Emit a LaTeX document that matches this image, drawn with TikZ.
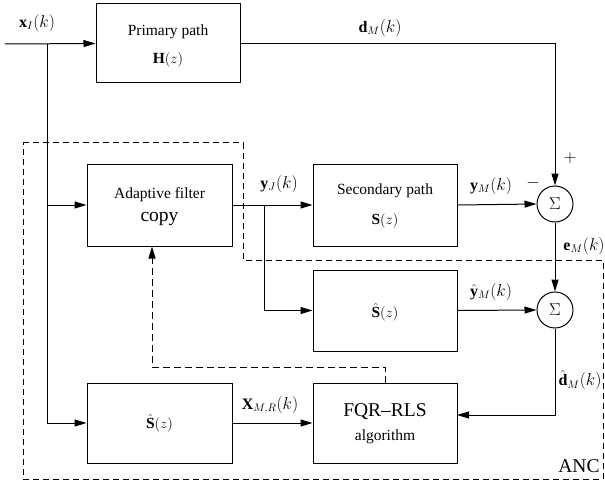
\documentclass[tikz,border=0pt]{standalone}
\usepackage{fontspec}
\setmainfont{Liberation Serif}
\usetikzlibrary{arrows.meta,calc}
\begin{document}
\begin{tikzpicture}[x=1pt,y=-1pt,
  box/.style={draw,line width=1pt,minimum width=144pt,minimum height=80pt,inner sep=0pt},
  sumnode/.style={draw,circle,line width=1pt,minimum size=36pt,inner sep=0pt,font=\fontsize{17.5}{20}\selectfont},
  conn/.style={line width=1pt},
  arr/.style={conn,-{Triangle[length=12pt,width=7pt]}},
  ancline/.style={line width=1pt,dash pattern=on 6pt off 4pt},
  fbline/.style={line width=1pt,dash pattern=on 7pt off 4pt},
  txt/.style={font=\fontsize{15.5}{18}\selectfont,inner sep=0pt},
  lbl/.style={font=\fontsize{16}{18}\selectfont,inner sep=0pt},
  big/.style={font=\fontsize{19.5}{22}\selectfont,inner sep=0pt}]
\useasboundingbox (0,0) rectangle (605,484);

% ANC region
\draw[ancline] (23,143) -- (243,143) -- (243,260) -- (603,260) -- (603,479) -- (23,479) -- cycle;

% boxes
\node[box,minimum height=79pt] (prim) at (168,43.5) {};
\node[txt] (primt1) at (168,32) {Primary path};
\node[txt] (primt2) at (168,60) {$\mathbf{H}(z)$};

\node[box,minimum width=145pt,minimum height=82pt] (adapt) at (159.5,205) {};
\node[txt] (adt1) at (159.5,195) {Adaptive filter};
\node[big] (adt2) at (159.5,219) {copy};

\node[box,minimum height=82pt] (sec) at (385,205) {};
\node[txt] (sect1) at (385,191) {Secondary path};
\node[txt] (sect2) at (385,221) {$\mathbf{S}(z)$};

\node[box,minimum height=81pt] (shat1) at (385,310.5) {};
\node[txt] (shat1t) at (385,312) {$\hat{\mathbf{S}}(z)$};

\node[box,minimum width=145pt] (shat2) at (159.5,423) {};
\node[txt] (shat2t) at (159.5,423) {$\hat{\mathbf{S}}(z)$};

\node[box] (fqr) at (385,423) {};
\node[big] (fqrt1) at (385,412) {FQR\textendash RLS};
\node[txt] (fqrt2) at (385,437) {algorithm};

\node[sumnode] (sum1) at (555,204) {$\Sigma$};
\node[sumnode] (sum2) at (555,310) {$\Sigma$};

% coordinates
\coordinate (in) at (5,44);
\coordinate (j1) at (47,44);
\coordinate (j2) at (264,205);
\coordinate (fqrin) at (457,415);
\coordinate (fb) at (152,367);

% connectors
\draw[arr] (in) -- (prim.west);
\draw[conn] (j1) -- (j1 |- shat2.west);
\draw[arr] (j1 |- adapt.west) -- (adapt.west);
\draw[arr] (j1 |- shat2.west) -- (shat2.west);
\draw[arr] (prim.east) -| (sum1.north);
\draw[arr] (adapt.east) -- (sec.west);
\draw[arr] (j2) |- (shat1.west);
\draw[arr] (sec.east) -- (sum1.west);
\draw[arr] (shat1.east) -- (sum2.west);
\draw[arr] (sum1.south) -- (sum2.north);
\draw[arr] (sum2.south) |- (fqrin);
\draw[arr] (shat2.east) -- (fqr.west);
\draw[fbline,-{Triangle[length=12pt,width=7pt]}] (fqr.north) |- (fb) -- (fb |- adapt.south);

% labels
\node[lbl] (lx) at (37,23) {$\mathbf{x}_I(k)$};
\node[lbl] (ld) at (380,28) {$\mathbf{d}_M(k)$};
\node[lbl] (lyj) at (279,184) {$\mathbf{y}_J(k)$};
\node[lbl] (lym) at (491,186) {$\mathbf{y}_M(k)$};
\node[lbl] (lminus) at (533,183) {$-$};
\node[lbl] (lplus) at (570,158) {$+$};
\node[lbl] (le) at (584,246) {$\mathbf{e}_M(k)$};
\node[lbl] (lyh) at (491,292) {$\hat{\mathbf{y}}_M(k)$};
\node[lbl] (ldh) at (580,380) {$\hat{\mathbf{d}}_M(k)$};
\node[lbl] (lX) at (270,405) {$\mathbf{X}_{M,R}(k)$};
\node[big] (lanc) at (579,466) {ANC};
\end{tikzpicture}
\end{document}
